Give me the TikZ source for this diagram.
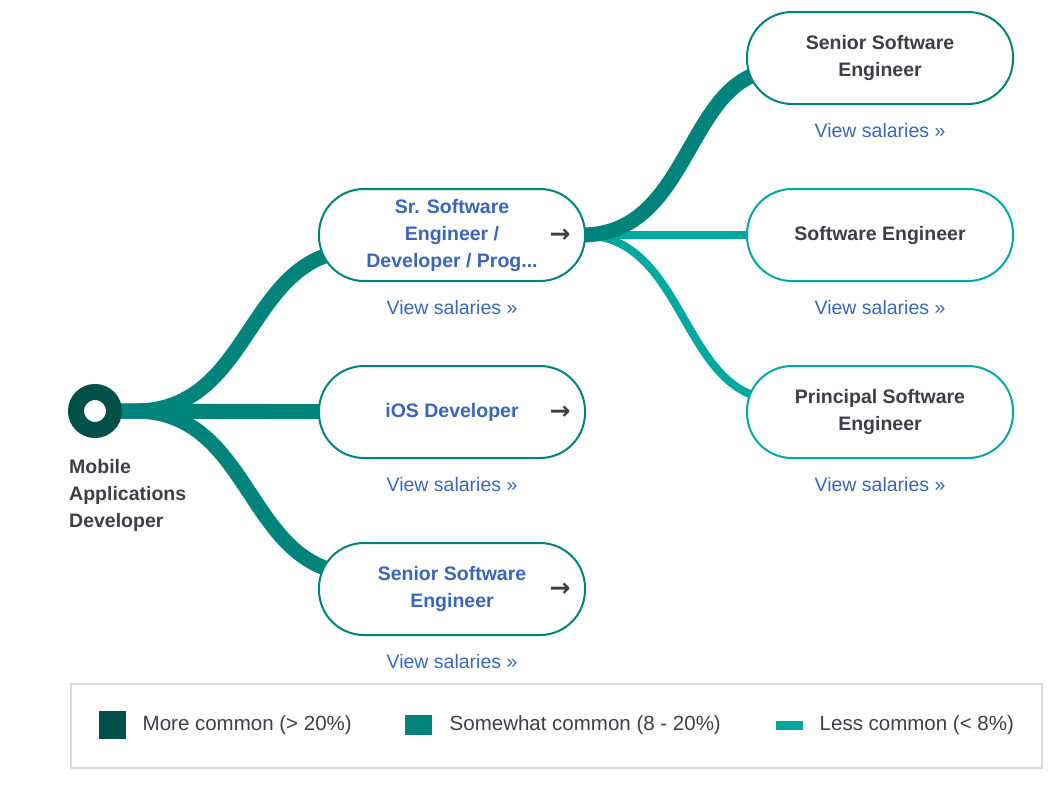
\documentclass[tikz,border=0pt]{standalone}
\usepackage{fontspec}
\setmainfont{Liberation Sans}
\newfontfamily\arrowfont{DejaVu Sans}
\usetikzlibrary{positioning,backgrounds}

\definecolor{darkteal}{HTML}{00504A}
\definecolor{midteal}{HTML}{00837A}
\definecolor{lightteal}{HTML}{00A9A0}
\definecolor{linkblue}{HTML}{3A66B5}
\definecolor{textdark}{HTML}{403C48}
\definecolor{legendgray}{HTML}{D9D9DE}

\begin{document}
\begin{tikzpicture}[x=1pt, y=-1pt,
    jobbox/.style={draw=midteal, fill=white, line width=2pt, rounded corners=45pt, minimum width=266pt, minimum height=92pt, align=center, text=linkblue, font=\fontsize{19.5}{27}\selectfont\bfseries},
    nextbox/.style={jobbox, text=textdark},
    pay/.style={text=linkblue, font=\fontsize{19.5}{23}\selectfont, inner sep=0pt},
    go/.style={text=textdark, font=\arrowfont\bfseries\fontsize{25}{25}\selectfont, inner sep=0pt},
    thickline/.style={draw=midteal, line width=15pt},
    thinline/.style={draw=lightteal, line width=8pt},
    keybox/.style={inner sep=0pt, outer sep=0pt, minimum width=27pt},
    key/.style={text=textdark, font=\fontsize{20.5}{24}\selectfont, inner sep=0pt}
]
\useasboundingbox (0,0) rectangle (1064,787);

% Source
\node[circle, draw=darkteal, line width=16pt, fill=white, minimum size=38pt, inner sep=0pt] (src) at (95,411) {};
\node[anchor=north west, align=left, inner sep=0pt, text=textdark, font=\fontsize{19.5}{27}\selectfont\bfseries] (srclabel) at (69,459) {Mobile\\Applications\\Developer};

% First step
\node[jobbox] (srdev) at (452,235) {Sr. Software\\Engineer /\\Developer / Prog...};
\node[jobbox, below=83pt of srdev] (ios) {iOS Developer};
\node[jobbox, below=83pt of ios] (srsen) {Senior Software\\Engineer};

\node[go] (srdevgo) at ([shift={(-26,1)}]srdev.east) {→};
\node[go] (iosgo) at ([shift={(-26,1)}]ios.east) {→};
\node[go] (srsengo) at ([shift={(-26,1)}]srsen.east) {→};

% Second step
\node[nextbox, right=160pt of srdev, draw=lightteal] (sweng) {Software Engineer};
\node[nextbox, above=83pt of sweng] (srsenr) {Senior Software\\Engineer};
\node[nextbox, below=83pt of sweng, draw=lightteal] (princ) {Principal Software\\Engineer};

% Salary links
\node[pay, below=18pt of srdev] (srdevpay) {View salaries »};
\node[pay, below=18pt of ios] (iospay) {View salaries »};
\node[pay, below=18pt of srsen] (srsenpay) {View salaries »};
\node[pay, below=18pt of srsenr] (srsenrpay) {View salaries »};
\node[pay, below=18pt of sweng] (swengpay) {View salaries »};
\node[pay, below=18pt of princ] (princpay) {View salaries »};

% Connectors
\begin{scope}[on background layer]
\draw[thickline] (src.center) -- (ios.center);
\draw[thickline] (src.center) -- ++(40,0) .. controls +(120,0) and +(-115,0) .. ([shift={(-92,15)}]srdev.center);
\draw[thickline] (src.center) -- ++(40,0) .. controls +(120,0) and +(-115,0) .. ([shift={(-92,-15)}]srsen.center);
\draw[thinline] (srdev.center) -- (sweng.center);
\draw[thinline] ([xshift=-4pt]srdev.east) .. controls +(106,0) and +(-100,0) .. ([shift={(-100,-12)}]princ.center);
\draw[thickline] ([xshift=-4pt]srdev.east) .. controls +(112,0) and +(-95,0) .. ([shift={(-100,12)}]srsenr.center);
\end{scope}

% Legend
\node[draw=legendgray, line width=2pt, minimum width=971pt, minimum height=84pt, inner sep=0pt] (legend) at (556.5,726) {};
\node[keybox, fill=darkteal, minimum height=28pt] (morekey) at (112,725) {};
\node[key, right=17pt of morekey] (moretext) {More common (> 20\%)};
\node[keybox, fill=midteal, minimum height=20pt] (midkey) at (418,725) {};
\node[key, right=18pt of midkey] (midtext) {Somewhat common (8 - 20\%)};
\node[keybox, fill=lightteal, minimum height=9pt] (lesskey) at (789,725) {};
\node[key, right=17pt of lesskey] (lesstext) {Less common (< 8\%)};

\end{tikzpicture}
\end{document}
